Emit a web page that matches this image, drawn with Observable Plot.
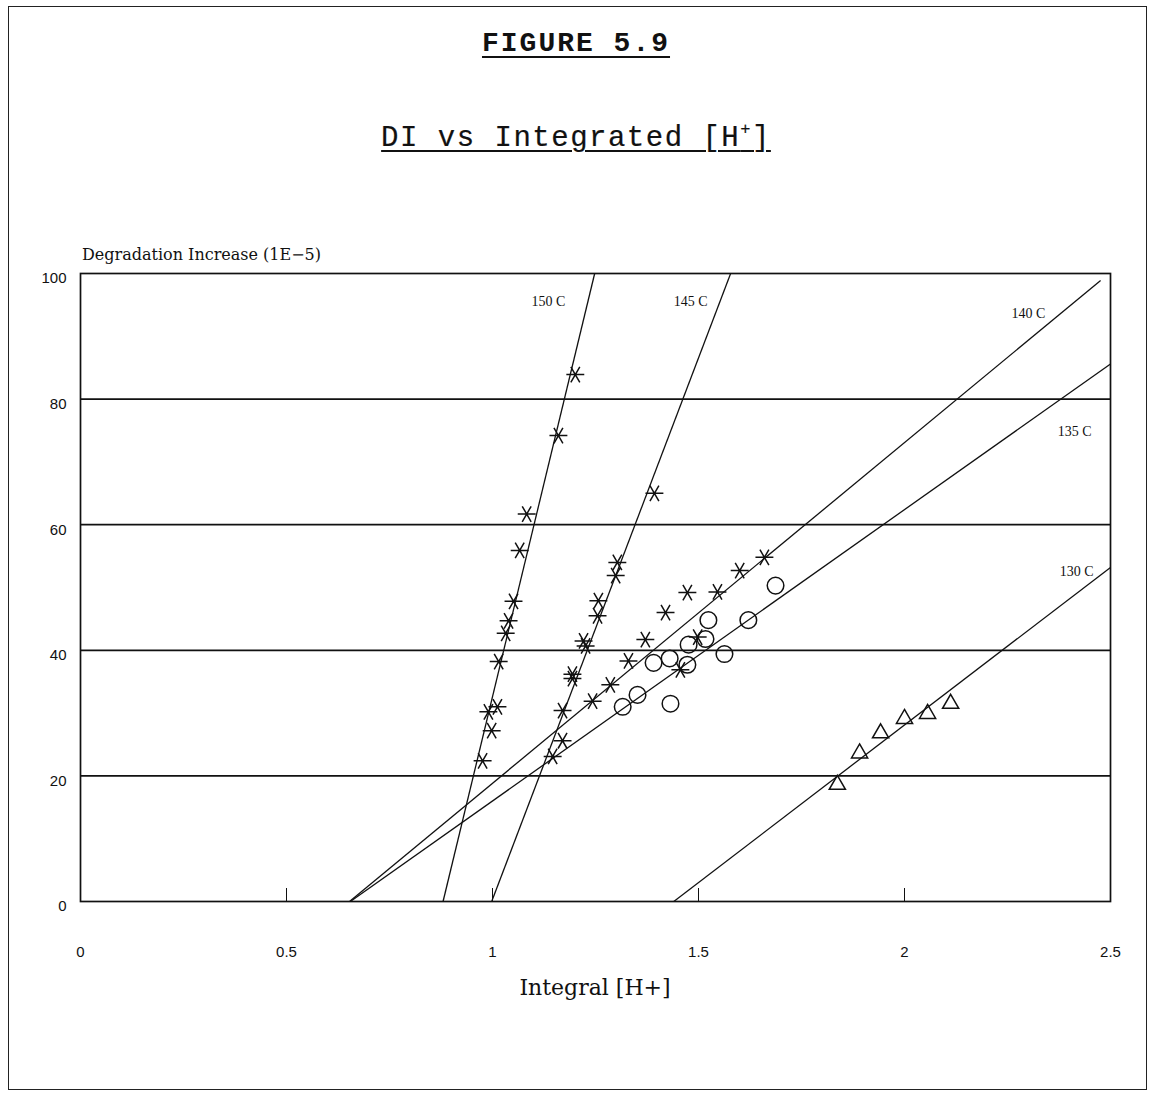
<!DOCTYPE html>
<html>
<head>
<meta charset="utf-8">
<script src="https://cdn.jsdelivr.net/npm/d3@7"></script>
<script src="https://cdn.jsdelivr.net/npm/@observablehq/plot@0.6"></script>
<style>
  html, body { margin: 0; padding: 0; background: #fff; }
  #page { position: relative; width: 1152px; height: 1096px; overflow: hidden; background: #fff; color: #111; }
  #border { position: absolute; left: 8px; top: 6px; width: 1139px; height: 1084px; border: 1.5px solid #222; box-sizing: border-box; }
  .title { position: absolute; left: 0; width: 1152px; text-align: center; font-family: "Liberation Mono", "DejaVu Sans Mono", monospace; text-decoration: underline; text-decoration-thickness: 2px; }
  #fig { top: 28px; font-size: 28px; font-weight: bold; letter-spacing: 2px; text-underline-offset: 5px; }
  #sub { top: 122px; font-size: 29px; letter-spacing: 1.5px; text-underline-offset: 4px; -webkit-text-stroke: 0.2px #111; }
  #sub sup { font-size: 17px; vertical-align: 12px; line-height: 0; }
  #ylab { position: absolute; left: 82px; top: 245px; font-family: "DejaVu Serif", serif; font-size: 16px; }
  #xlab { position: absolute; left: 80px; width: 1030px; top: 975px; text-align: center; font-family: "DejaVu Serif", serif; font-size: 22px; }
  #chart { position: absolute; left: 0; top: 230px; }
</style>
</head>
<body>
<div id="page">
  <div id="border"></div>
  <div class="title" id="fig">FIGURE 5.9</div>
  <div class="title" id="sub">DI vs Integrated [H<sup>+</sup>]</div>
  <div id="ylab">Degradation Increase (1E&#8722;5)</div>
  <div id="xlab">Integral [H+]</div>
  <div id="chart"></div>
</div>
<script>
// Axis ticks
const xTicks = [0, 0.5, 1, 1.5, 2, 2.5];
const yTicks = [0, 20, 40, 60, 80, 100];

// Measured points: integrated [H+] vs degradation increase (1E-5)
const x150 = [1.201, 1.160, 1.083, 1.066, 1.051, 1.039, 1.032, 1.015, 1.012, 0.990, 0.998, 0.976];
const y150 = [83.9, 74.2, 61.7, 55.9, 47.8, 44.7, 42.7, 38.2, 31.0, 30.2, 27.2, 22.4];

const x145 = [1.393, 1.303, 1.299, 1.257, 1.255, 1.221, 1.226, 1.194, 1.194, 1.170, 1.170, 1.146];
const y145 = [65.0, 54.0, 51.9, 47.9, 45.5, 41.5, 40.7, 36.2, 35.5, 30.4, 25.6, 23.1];

const x140 = [1.660, 1.600, 1.546, 1.473, 1.420, 1.371, 1.330, 1.286, 1.243, 1.498, 1.456];
const y140 = [54.8, 52.7, 49.3, 49.2, 46.0, 41.7, 38.3, 34.5, 31.9, 42.1, 36.9];

const x135 = [1.687, 1.621, 1.524, 1.517, 1.476, 1.563, 1.473, 1.430, 1.391, 1.352, 1.316, 1.432];
const y135 = [50.3, 44.8, 44.8, 41.8, 40.9, 39.4, 37.7, 38.7, 38.0, 32.9, 31.0, 31.5];

const x130 = [2.112, 2.056, 2.000, 1.942, 1.891, 1.837];
const y130 = [31.5, 29.9, 29.1, 26.8, 23.6, 18.6];

// Fitted straight lines: x-intercept and far end point of each fit
const fitNames = ["150 C", "145 C", "140 C", "135 C", "130 C"];
const fitStartX = [0.880, 0.998, 0.653, 0.655, 1.440];
const fitEndX = [1.248, 1.578, 2.476, 2.500, 2.500];
const fitEndY = [100, 100, 98.9, 85.6, 53.2];

// Temperature labels placed beside their lines
const labelX = [1.136, 1.481, 2.301, 2.413, 2.418];
const labelY = [95.6, 95.6, 93.6, 74.9, 52.6];

const toPoints = (xs, ys) => xs.map((x, i) => ({x, y: ys[i]}));
const asterisks = [
  ...toPoints(x150, y150),
  ...toPoints(x145, y145),
  ...toPoints(x140, y140)
];
const circles = toPoints(x135, y135);
const triangles = toPoints(x130, y130);

const fits = fitNames.map((name, i) => ({name, x1: fitStartX[i], y1: 0, x2: fitEndX[i], y2: fitEndY[i]}));
const labels = fitNames.map((name, i) => ({name, x: labelX[i], y: labelY[i]}));

const ink = "#111";

const chart = Plot.plot({
  width: 1152,
  height: 800,
  marginLeft: 80,
  marginRight: 42,
  marginTop: 43,
  marginBottom: 129,
  x: {domain: [0, 2.5], label: null},
  y: {domain: [0, 100], label: null},
  style: {background: "transparent", color: ink, fontFamily: "Liberation Sans, Arial, sans-serif", fontSize: "15px"},
  marks: [
    Plot.ruleY(yTicks.filter(v => v > 0 && v < 100), {stroke: ink, strokeWidth: 1.7}),
    Plot.frame({stroke: ink, strokeWidth: 1.7}),
    Plot.axisY({ticks: yTicks, tickSize: 0, tickPadding: 14, dy: 5, fontSize: 15, tickFormat: d => String(d)}),
    Plot.axisX({ticks: xTicks, tickSize: 0, tickPadding: 45, fontSize: 15, tickFormat: d => String(d)}),
    Plot.axisX({ticks: xTicks.filter(v => v > 0 && v < 2.5), tickSize: -13, stroke: ink, strokeWidth: 1, tickFormat: () => ""}),
    Plot.link(fits, {x1: "x1", y1: "y1", x2: "x2", y2: "y2", stroke: ink, strokeWidth: 1.3}),
    Plot.dot(asterisks, {x: "x", y: "y", symbol: "asterisk", r: 8.5, rotate: 90, stroke: ink, strokeWidth: 1.5, fill: "none"}),
    Plot.dot(circles, {x: "x", y: "y", symbol: "circle", r: 8.3, stroke: ink, strokeWidth: 1.5, fill: "none"}),
    Plot.dot(triangles, {x: "x", y: "y", symbol: "triangle", r: 6, stroke: ink, strokeWidth: 1.5, fill: "none"}),
    Plot.text(labels, {x: "x", y: "y", text: "name", fontFamily: "Liberation Serif, serif", fontSize: 14, fill: ink})
  ]
});

document.getElementById("chart").appendChild(chart);
</script>
</body>
</html>
